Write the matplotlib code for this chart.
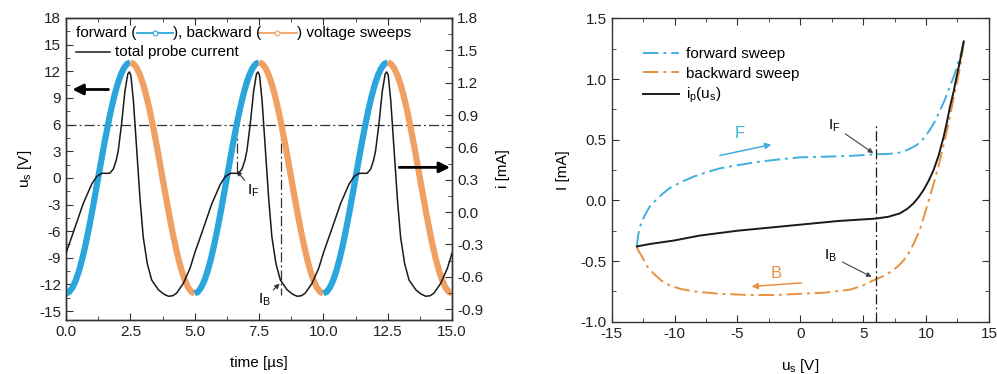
import numpy as np
import matplotlib
matplotlib.use('Agg')
import matplotlib.pyplot as plt
from matplotlib.ticker import MultipleLocator, FormatStrFormatter

plt.rcParams['font.family'] = ['Liberation Sans', 'DejaVu Sans']
plt.rcParams['font.size'] = 11
plt.rcParams['mathtext.default'] = 'regular'
plt.rcParams['axes.unicode_minus'] = False

# ---- data ----
period = 5.0  # us
# probe voltage over a rising half-period, every 0.125 us (V)
t_half = [0.0, 0.125, 0.25, 0.375, 0.5, 0.625, 0.75, 0.875, 1.0, 1.125, 1.25,
          1.375, 1.5, 1.625, 1.75, 1.875, 2.0, 2.125, 2.25, 2.375, 2.5]
u_rise = [-13.0, -12.84, -12.36, -11.58, -10.52, -9.19, -7.64, -5.90, -4.02, -2.03, 0.0,
          2.03, 4.02, 5.90, 7.64, 9.19, 10.52, 11.58, 12.36, 12.84, 13.0]

# total probe current over one period (us, mA)
t_cur = [0.00, 0.28, 0.67, 1.00, 1.19, 1.39, 1.55, 1.70, 1.84, 1.95, 2.03, 2.16,
         2.29, 2.40, 2.46, 2.52, 2.62, 2.75, 2.88, 3.00, 3.16, 3.33, 3.59, 3.80,
         3.98, 4.15, 4.30, 4.56, 4.82, 5.00]
i_cur = [-0.38, -0.19, 0.08, 0.26, 0.33, 0.36, 0.36, 0.36, 0.40, 0.48, 0.57, 0.82,
         1.12, 1.28, 1.30, 1.27, 1.03, 0.57, 0.11, -0.23, -0.48, -0.63, -0.72, -0.76,
         -0.78, -0.775, -0.75, -0.66, -0.52, -0.38]

# I-V characteristics
u_fw = [-13, -12.9, -12.75, -12.4, -12, -11.5, -11, -10.4, -9.5, -8.5, -7.5, -6.4, -5,
        -3.2, -1.5, 0, 2, 4, 6, 7, 8, 8.6, 9.25, 9.8, 10.3, 10.7, 11.1, 11.5, 11.9,
        12.2, 12.45, 12.75, 13]
i_fw = [-0.38, -0.29, -0.217, -0.13, -0.055, 0.0, 0.05, 0.10, 0.15, 0.195, 0.23, 0.264,
        0.29, 0.32, 0.34, 0.355, 0.36, 0.367, 0.38, 0.383, 0.395, 0.42, 0.455, 0.51,
        0.58, 0.65, 0.74, 0.83, 0.94, 1.02, 1.10, 1.20, 1.31]
u_bw = [13, 12.75, 12.43, 12.15, 11.9, 11.5, 11.1, 10.7, 10.3, 9.9, 9.5, 9.0, 8.46, 7.9,
        7.4, 6.7, 6, 5, 4, 2, 0, -2, -4, -6.4, -8.5, -9.5, -10.4, -11, -11.7, -12.2,
        -12.6, -12.85, -13]
i_bw = [1.31, 1.12, 0.96, 0.82, 0.69, 0.50, 0.33, 0.17, 0.03, -0.11, -0.245, -0.36,
        -0.465, -0.53, -0.575, -0.62, -0.65, -0.70, -0.735, -0.76, -0.77, -0.78, -0.78,
        -0.77, -0.75, -0.73, -0.70, -0.665, -0.60, -0.54, -0.46, -0.42, -0.38]
u_ip = [-13, -12, -10, -8, -5, -3, 0, 3, 6, 7, 7.9, 8.5, 9, 9.4, 9.8, 10.2, 10.6, 11,
        11.4, 11.65, 11.9, 12.2, 12.43, 12.7, 13]
i_ip = [-0.38, -0.36, -0.33, -0.29, -0.25, -0.23, -0.20, -0.17, -0.15, -0.135, -0.108,
        -0.07, -0.025, 0.025, 0.085, 0.16, 0.25, 0.37, 0.524, 0.64, 0.77, 0.90, 1.02,
        1.15, 1.31]

u_ref = 6.0
n_periods = 3

blue = '#2ba6dd'
orange = '#f0a062'
lblue = '#3fb0dc'
dorange = '#e8913e'
dashdot = (0, (8, 2.5, 1.5, 2.5))

fig = plt.figure(figsize=(9.97, 3.74), dpi=100)
ax1 = fig.add_axes([0.0662, 0.1444, 0.3872, 0.8075])
ax2 = ax1.twinx()
ax3 = fig.add_axes([0.6135, 0.1398, 0.3784, 0.811])

# ---- left: time traces ----
t_half = np.array(t_half)
u_rise = np.array(u_rise)
for k in range(n_periods):
    t0 = k * period
    ax1.plot(t0 + t_half, u_rise, color=blue, lw=4.5, solid_capstyle='butt', zorder=3)
    ax1.plot(t0 + period / 2 + t_half, u_rise[::-1], color=orange, lw=4.5,
             solid_capstyle='butt', zorder=3)

t_all = np.concatenate([np.array(t_cur[:-1]) + k * period for k in range(n_periods)] +
                       [[n_periods * period]])
i_all = np.concatenate([i_cur[:-1]] * n_periods + [[i_cur[-1]]])
ax2.plot(t_all, i_all, color='#1a1a1a', lw=1.1, zorder=4)

ax1.axhline(u_ref, color='#333333', lw=0.9, ls=dashdot, zorder=2)
tF = 6.63
tB = 8.37
ax1.plot([tF, tF], [u_ref, 0.56], color='#333333', lw=0.9, ls=dashdot, zorder=2)
ax1.plot([tB, tB], [u_ref, -13.2], color='#333333', lw=0.9, ls=dashdot, zorder=2)

ax1.annotate('I$_F$', xy=(6.63, 0.8), xytext=(7.05, -1.9), fontsize=11,
             arrowprops=dict(arrowstyle='-|>', color='#333333', lw=0.8, mutation_scale=7,
                             shrinkA=0, shrinkB=0))
ax1.annotate('I$_B$', xy=(8.3, -11.9), xytext=(7.45, -14.1), fontsize=11,
             arrowprops=dict(arrowstyle='-|>', color='#333333', lw=0.8, mutation_scale=7,
                             shrinkA=0, shrinkB=0))

ax1.annotate('', xy=(0.25, 9.95), xytext=(1.65, 9.95),
             arrowprops=dict(arrowstyle='-|>', color='black', lw=2, mutation_scale=16,
                             shrinkA=0, shrinkB=0))
ax2.annotate('', xy=(14.92, 0.415), xytext=(12.95, 0.415),
             arrowprops=dict(arrowstyle='-|>', color='black', lw=2, mutation_scale=16,
                             shrinkA=0, shrinkB=0))

ax1.set_xlim(0, 15)
ax1.set_ylim(-16, 18)
ax2.set_ylim(-1.0, 1.8)
ax1.xaxis.set_major_locator(MultipleLocator(2.5))
ax1.xaxis.set_minor_locator(MultipleLocator(1.25))
ax1.xaxis.set_major_formatter(FormatStrFormatter('%.1f'))
ax1.yaxis.set_major_locator(MultipleLocator(3))
ax1.yaxis.set_minor_locator(MultipleLocator(1.5))
ax2.yaxis.set_major_locator(MultipleLocator(0.3))
ax2.yaxis.set_minor_locator(MultipleLocator(0.15))
ax2.yaxis.set_major_formatter(FormatStrFormatter('%.1f'))
ax1.set_xlabel('time [µs]', labelpad=12)
ax1.set_ylabel('u$_s$ [V]', labelpad=4)
ax2.set_ylabel('i [mA]', labelpad=9)

# inline legend of the time plot
row1, row2 = 0.949, 0.888
tr = ax2.transAxes
ax2.text(0.026, row1, 'forward (', transform=tr, va='center', ha='left')
ax2.plot([0.184, 0.277], [row1, row1], transform=tr, color=blue, lw=1.3, clip_on=False)
ax2.plot([0.2305], [row1], transform=tr, marker='o', ms=3.5, mfc='white', mec=blue,
         mew=0.8, clip_on=False)
ax2.text(0.277, row1, '), backward (', transform=tr, va='center', ha='left')
ax2.plot([0.497, 0.598], [row1, row1], transform=tr, color=orange, lw=1.3, clip_on=False)
ax2.plot([0.5475], [row1], transform=tr, marker='o', ms=3.5, mfc='white', mec=orange,
         mew=0.8, clip_on=False)
ax2.text(0.598, row1, ') voltage sweeps', transform=tr, va='center', ha='left')
ax2.plot([0.026, 0.114], [row2, row2], transform=tr, color='#1a1a1a', lw=1.1, clip_on=False)
ax2.text(0.127, row2, 'total probe current', transform=tr, va='center', ha='left')

# ---- right: I-V ----
ax3.plot(u_fw, i_fw, color=lblue, lw=1.4, ls=dashdot, label='forward sweep')
ax3.plot(u_bw, i_bw, color=dorange, lw=1.4, ls=dashdot, label='backward sweep')
ax3.plot(u_ip, i_ip, color='#1a1a1a', lw=1.4, label='i$_p$(u$_s$)')
ax3.plot([u_ref, u_ref], [-1.0, 0.63], color='#1a1a1a', lw=0.9, ls=dashdot)

ax3.annotate('I$_F$', xy=(5.8, 0.39), xytext=(2.2, 0.58), fontsize=11,
             arrowprops=dict(arrowstyle='-|>', color='#444444', lw=0.8, mutation_scale=7,
                             shrinkA=2, shrinkB=0))
ax3.annotate('I$_B$', xy=(5.67, -0.63), xytext=(1.9, -0.49), fontsize=11,
             arrowprops=dict(arrowstyle='-|>', color='#444444', lw=0.8, mutation_scale=7,
                             shrinkA=2, shrinkB=0))
ax3.text(-4.85, 0.55, 'F', color=lblue, fontsize=12, ha='center', va='center')
ax3.annotate('', xy=(-2.3, 0.46), xytext=(-6.4, 0.37),
             arrowprops=dict(arrowstyle='-|>', color=lblue, lw=1.1, mutation_scale=9,
                             shrinkA=0, shrinkB=0))
ax3.text(-1.9, -0.6, 'B', color=dorange, fontsize=12, ha='center', va='center')
ax3.annotate('', xy=(-3.87, -0.71), xytext=(0.1, -0.68),
             arrowprops=dict(arrowstyle='-|>', color=dorange, lw=1.1, mutation_scale=9,
                             shrinkA=0, shrinkB=0))

ax3.set_xlim(-15, 15)
ax3.set_ylim(-1.0, 1.5)
ax3.xaxis.set_major_locator(MultipleLocator(5))
ax3.xaxis.set_minor_locator(MultipleLocator(2.5))
ax3.yaxis.set_major_locator(MultipleLocator(0.5))
ax3.yaxis.set_minor_locator(MultipleLocator(0.25))
ax3.yaxis.set_major_formatter(FormatStrFormatter('%.1f'))
ax3.set_xlabel('u$_s$ [V]', labelpad=12)
ax3.set_ylabel('I [mA]', labelpad=8)
ax3.legend(loc='upper left', bbox_to_anchor=(0.068, 0.925), frameon=False,
           handlelength=2.3, handletextpad=0.5, labelspacing=0.35, borderaxespad=0)

for ax in (ax1, ax2, ax3):
    for s in ax.spines.values():
        s.set_color('#333333')
        s.set_linewidth(1.0)
ax1.tick_params(which='both', direction='in', top=True, right=False, colors='#333333',
                labelcolor='#222222', labelsize=11)
ax1.tick_params(which='major', length=5)
ax1.tick_params(which='minor', length=3)
ax2.tick_params(which='both', direction='in', colors='#333333', labelcolor='#222222',
                labelsize=11)
ax2.tick_params(which='major', length=5)
ax2.tick_params(which='minor', length=3)
ax3.tick_params(which='both', direction='in', top=True, right=True, colors='#333333',
                labelcolor='#222222', labelsize=11)
ax3.tick_params(which='major', length=5)
ax3.tick_params(which='minor', length=3)

fig.savefig('out.png', dpi=100)
